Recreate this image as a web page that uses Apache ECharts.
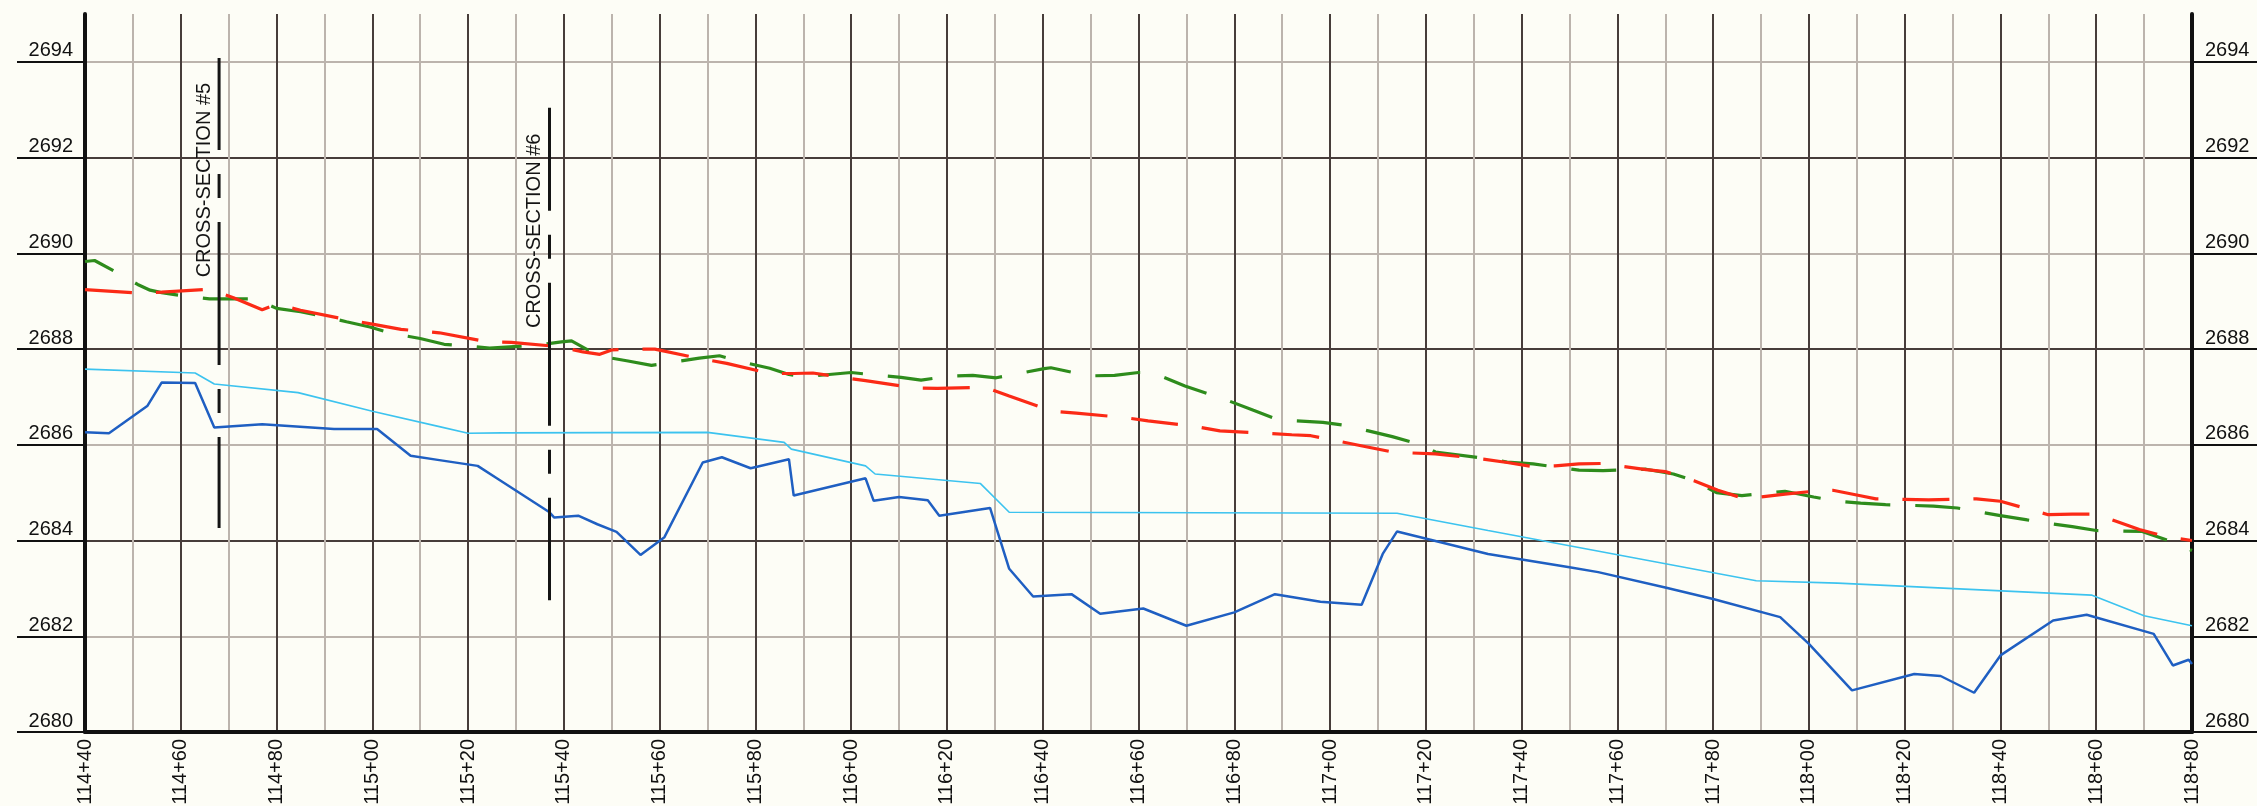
<!DOCTYPE html>
<html><head><meta charset="utf-8">
<script src="https://cdn.jsdelivr.net/npm/echarts@6/dist/echarts.min.js"></script>
<style>html,body{margin:0;padding:0;background:#fdfdf6;} #chart{width:2257px;height:806px;}</style>
</head><body><div id="chart"></div>
<script>
// Axis ticks
const stationLabels = [11440,11460,11480,11500,11520,11540,11560,11580,11600,11620,11640,11660,11680,11700,11720,11740,11760,11780,11800,11820,11840,11860,11880];
const elevationLabels = [2680,2682,2684,2686,2688,2690,2692,2694];

// Red dashed line
const redSta = [11440,11451,11456,11466,11471,11477,11480,11485,11495,11500,11506,11510,11514,11524,11529,11539,11544,11547.5,11550,11554,11559,11568,11574,11583,11588,11592,11598,11603,11613,11618,11628,11633,11642,11647,11657,11662,11672,11677,11687,11692,11696,11702,11707,11714,11717,11722,11732,11737,11742,11747,11752,11757,11761,11766,11770,11776,11781,11786,11790,11795,11802,11805,11810.5,11814,11820,11825,11835,11840,11850,11855,11860,11864,11869,11875,11880];
const redElev = [2689.24,2689.17,2689.19,2689.25,2689.07,2688.82,2688.94,2688.81,2688.61,2688.52,2688.41,2688.38,2688.34,2688.15,2688.14,2688.05,2687.94,2687.89,2687.98,2688.00,2688.00,2687.81,2687.70,2687.49,2687.49,2687.50,2687.41,2687.34,2687.19,2687.18,2687.20,2687.02,2686.70,2686.66,2686.57,2686.50,2686.38,2686.29,2686.24,2686.21,2686.19,2686.07,2685.97,2685.83,2685.83,2685.81,2685.70,2685.63,2685.55,2685.56,2685.60,2685.61,2685.55,2685.48,2685.44,2685.25,2685.05,2684.89,2684.91,2684.97,2685.04,2685.05,2684.94,2684.87,2684.86,2684.85,2684.87,2684.82,2684.54,2684.55,2684.55,2684.41,2684.23,2684.07,2684.00];

// Green dashed line
const greenSta = [11440,11442,11446.6,11451,11453.6,11456,11460.5,11466,11475.5,11480,11485,11490,11494.6,11499.5,11504,11510,11515,11519,11524.5,11534,11539.5,11541.6,11544.7,11546.8,11548.2,11553.4,11558.3,11563,11568.3,11572.5,11577.7,11583,11587,11590,11600,11605.6,11610.4,11614.6,11620,11625.4,11630.3,11635,11640.3,11641.7,11649.7,11655,11660,11662.4,11665,11669.7,11678.8,11684,11688.5,11693,11698.5,11703,11708,11713,11719,11722,11732,11737,11742.4,11752,11757,11766,11771.7,11776,11780.7,11786,11795,11801,11806,11810.8,11816,11826,11831,11840,11845.6,11850,11855,11860,11869.6,11875,11880];
const greenElev = [2689.83,2689.85,2689.60,2689.35,2689.23,2689.18,2689.11,2689.05,2689.05,2688.85,2688.78,2688.68,2688.57,2688.46,2688.33,2688.22,2688.10,2688.07,2688.02,2688.08,2688.15,2688.17,2688.00,2687.87,2687.84,2687.75,2687.66,2687.73,2687.81,2687.86,2687.72,2687.60,2687.47,2687.42,2687.51,2687.45,2687.41,2687.35,2687.43,2687.45,2687.40,2687.49,2687.59,2687.61,2687.44,2687.45,2687.51,2687.51,2687.42,2687.23,2686.92,2686.72,2686.55,2686.50,2686.47,2686.41,2686.29,2686.17,2686.00,2685.85,2685.72,2685.64,2685.60,2685.47,2685.46,2685.49,2685.39,2685.25,2685.00,2684.94,2685.03,2684.91,2684.82,2684.78,2684.75,2684.72,2684.68,2684.52,2684.43,2684.36,2684.29,2684.21,2684.19,2684.00,2683.79];

// Light blue line
const cyanSta = [11440,11463,11467,11484.5,11500,11514,11520,11527,11570,11586,11587.5,11603,11605,11627,11633,11714,11733,11789,11806,11859,11870,11880];
const cyanElev = [2687.58,2687.50,2687.27,2687.09,2686.70,2686.38,2686.24,2686.25,2686.26,2686.05,2685.91,2685.56,2685.39,2685.19,2684.59,2684.57,2684.21,2683.16,2683.11,2682.86,2682.43,2682.22];

// Dark blue line
const blueSta = [11440,11445,11453,11456,11463,11467,11477,11492,11501,11508,11514,11522,11526,11537,11538,11543,11547,11551,11556,11561,11569,11573,11579,11587,11588,11603,11604.7,11610,11616,11618.4,11629,11633,11638,11646,11652,11661,11670,11680,11688.5,11698,11706.6,11711,11714,11733,11750,11756,11770,11780,11794,11800,11809,11822,11827.5,11834.5,11840,11851,11858,11872,11876,11879.3,11880];
const blueElev = [2686.26,2686.24,2686.81,2687.30,2687.29,2686.36,2686.43,2686.33,2686.33,2685.77,2685.68,2685.56,2685.30,2684.59,2684.48,2684.52,2684.34,2684.18,2683.70,2684.07,2685.63,2685.74,2685.51,2685.70,2684.94,2685.30,2684.83,2684.91,2684.84,2684.52,2684.68,2683.41,2682.83,2682.88,2682.47,2682.58,2682.22,2682.50,2682.88,2682.72,2682.66,2683.72,2684.19,2683.72,2683.44,2683.34,2683.02,2682.78,2682.40,2681.84,2680.87,2681.21,2681.17,2680.82,2681.60,2682.33,2682.45,2682.05,2681.39,2681.51,2681.42];

// Cross-section markers
const crossSections = ['CROSS-SECTION #5', 'CROSS-SECTION #6'];
const csStation = [11468, 11537];
const csTop = [2694.08, 2693.04];
const csBottom = [2684.26, 2682.75];
const csLabelElev = [2691.53, 2690.47];

const zip = (a, b) => a.map((v, i) => [v, b[i]]);
const fmtSta = v => Math.floor(v / 100) + '+' + String(v % 100).padStart(2, '0');
const FONT = "'Liberation Sans', Arial, sans-serif";
const MAJOR = '#473d3a', MINOR = '#bcb4ad';

const chart = echarts.init(document.getElementById('chart'), null, {renderer: 'canvas'});
const csSeries = [];
crossSections.forEach((name, i) => {
  csSeries.push({
    type: 'line', name: name + ' line', data: [[csStation[i], csTop[i]], [csStation[i], csBottom[i]]],
    symbol: 'none', silent: true, z: 6,
    lineStyle: {color: '#141414', width: 3, type: [143, 24, 24, 24], dashOffset: i === 0 ? 51 : 40}
  });
});
csSeries.push({
  type: 'custom', name: 'cross-section labels', silent: true, z: 7,
  data: crossSections.map((n, i) => [csStation[i], csLabelElev[i]]),
  renderItem: (params, api) => {
    const p = api.coord([api.value(0), api.value(1)]);
    return {
      type: 'text', x: p[0] - 15, y: p[1], rotation: Math.PI / 2,
      style: {text: crossSections[params.dataIndex], fontSize: 20, fontFamily: FONT,
        fill: '#141414', align: 'center', verticalAlign: 'middle'}
    };
  }
});

chart.setOption({
  animation: false,
  backgroundColor: '#fdfdf6',
  grid: {left: 85, right: 65, top: 14, bottom: 74, outerBoundsMode: 'none', containLabel: false},
  xAxis: {
    type: 'value', min: 11440, max: 11880, interval: 10,
    axisLine: {show: true, onZero: false, lineStyle: {color: '#111', width: 4}},
    axisTick: {show: false},
    axisLabel: {rotate: 90, margin: 7, fontSize: 20, fontFamily: FONT, color: '#111',
      formatter: v => (stationLabels.includes(v) ? fmtSta(v) : '')},
    splitLine: {show: true, lineStyle: {color: [MAJOR, MINOR], width: 2}}
  },
  yAxis: [{
    type: 'value', min: 2680, max: 2695, interval: 1, position: 'left',
    axisLine: {show: true, lineStyle: {color: '#111', width: 4}},
    axisTick: {show: true, length: 68, customValues: elevationLabels, lineStyle: {color: '#111', width: 2}},
    axisLabel: {customValues: elevationLabels, formatter: v => String(v), margin: 12, fontSize: 20, fontFamily: FONT, color: '#111', verticalAlign: 'bottom', padding: [0, 0, 1, 0]},
    splitLine: {show: true, lineStyle: {color: [MAJOR, MINOR], width: 2}}
  }, {
    type: 'value', min: 2680, max: 2695, interval: 1, position: 'right',
    axisLine: {show: true, lineStyle: {color: '#111', width: 4}},
    axisTick: {show: true, length: 65, customValues: elevationLabels, lineStyle: {color: '#111', width: 2}},
    axisLabel: {customValues: elevationLabels, formatter: v => String(v), margin: 13, fontSize: 20, fontFamily: FONT, color: '#111', verticalAlign: 'bottom', padding: [0, 0, 1, 0]},
    splitLine: {show: false}
  }],
  series: [
    {type: 'line', name: 'Light blue', data: zip(cyanSta, cyanElev), symbol: 'none', z: 3,
      lineStyle: {color: '#3cc3ef', width: 1.6}},
    {type: 'line', name: 'Dark blue', data: zip(blueSta, blueElev), symbol: 'none', z: 3,
      lineStyle: {color: '#1f5fc2', width: 2.5}},
    {type: 'line', name: 'Green', data: zip(greenSta, greenElev), symbol: 'none', z: 4,
      lineStyle: {color: '#2e8c1c', width: 3.2, type: [45, 25], dashOffset: 14}},
    {type: 'line', name: 'Red', data: zip(redSta, redElev), symbol: 'none', z: 5,
      lineStyle: {color: '#fb2a16', width: 3.2, type: [47, 24]}},
    ...csSeries
  ]
});
</script>
</body></html>
